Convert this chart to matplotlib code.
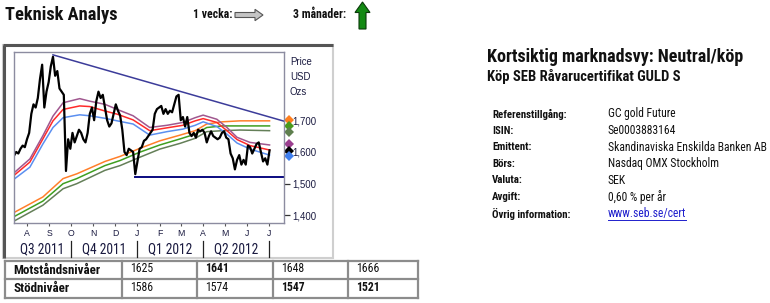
import matplotlib
matplotlib.use('Agg')
import matplotlib.pyplot as plt
import matplotlib.dates as mdates
import matplotlib.transforms as mtrans
from matplotlib.patches import Rectangle, Polygon
from matplotlib import font_manager
from matplotlib.font_manager import FontProperties
import pandas as pd

# ---------------- data ----------------
price_start = '2011-07-14'
price_step = '3D'
price = [1588, 1600, 1595, 1610, 1620, 1615, 1640, 1660, 1720, 1750,
         1740, 1770, 1830, 1875, 1740, 1790, 1820, 1870, 1900, 1840,
         1855, 1800, 1790, 1780, 1540, 1640, 1610, 1660, 1630, 1650,
         1670, 1660, 1640, 1630, 1660, 1720, 1740, 1700, 1760, 1790,
         1770, 1780, 1740, 1700, 1680, 1690, 1720, 1750, 1730, 1715,
         1670, 1600, 1590, 1610, 1605, 1600, 1530, 1570, 1610, 1615,
         1635, 1640, 1650, 1660, 1670, 1720, 1735, 1740, 1745, 1720,
         1735, 1720, 1730, 1725, 1750, 1775, 1780, 1700, 1710, 1680,
         1710, 1660, 1650, 1660, 1645, 1670, 1665, 1670, 1660, 1630,
         1650, 1665, 1650, 1645, 1640, 1645, 1660, 1665, 1645, 1640,
         1595, 1580, 1545, 1575, 1590, 1560, 1575, 1560, 1620, 1615,
         1595, 1610, 1625, 1630, 1600, 1570, 1580, 1560, 1605]

short_dates = ['2011-07-14', '2011-08-05', '2011-08-23', '2011-09-06', '2011-09-20',
               '2011-10-13', '2011-10-27', '2011-11-17', '2011-12-04', '2011-12-26',
               '2012-01-18', '2012-02-11', '2012-03-04', '2012-03-21', '2012-04-01',
               '2012-04-20', '2012-05-04', '2012-05-18', '2012-06-05', '2012-07-02']
short_upper = [1534, 1578, 1651, 1713, 1755, 1768, 1760, 1750, 1734, 1714,
               1677, 1684, 1693, 1708, 1716, 1703, 1677, 1646, 1630, 1622]
short_mid = [1526, 1568, 1641, 1698, 1734, 1745, 1743, 1729, 1719, 1701,
             1667, 1676, 1684, 1698, 1705, 1693, 1667, 1639, 1620, 1606]
short_lower = [1514, 1552, 1625, 1677, 1708, 1717, 1714, 1706, 1698, 1688,
               1653, 1664, 1672, 1684, 1695, 1680, 1656, 1628, 1609, 1590]

long_dates = ['2011-07-14', '2011-08-23', '2011-09-20', '2011-10-09', '2011-11-17',
              '2011-12-08', '2012-01-04', '2012-02-01', '2012-02-29', '2012-03-21',
              '2012-04-06', '2012-04-28', '2012-05-22', '2012-07-02']
long_upper = [1409, 1458, 1516, 1531, 1570, 1586, 1611, 1635, 1653, 1667,
              1688, 1695, 1698, 1698]
long_mid = [1396, 1445, 1500, 1516, 1557, 1573, 1599, 1622, 1641, 1656,
            1677, 1682, 1682, 1682]
long_lower = [1382, 1432, 1484, 1500, 1542, 1557, 1583, 1609, 1627, 1643,
              1664, 1667, 1669, 1667]

trend_dates = ['2011-09-06', '2012-07-22']
trend_values = [1906, 1697]
support_dates = ['2011-12-29', '2012-07-22']
support_values = [1520, 1520]

marker_values = [1700, 1681, 1664, 1625, 1603, 1588]
marker_colors = ['#ff7f1e', '#4a9a1e', '#5f7f4f', '#9b3f8f', '#000000', '#3f7fef']

y_ticks = [1400, 1500, 1600, 1700]
x_range = ['2011-07-14', '2012-07-22']
y_range = [1376, 1915]
quarters = [('Q3 2011', '2011-07-01', '2011-10-01'), ('Q4 2011', '2011-10-01', '2012-01-01'),
            ('Q1 2012', '2012-01-01', '2012-04-01'), ('Q2 2012', '2012-04-01', '2012-07-01')]

levels_header = ['Motståndsnivåer', 'Stödnivåer']
resistance = ['1625', '1641', '1648', '1666']
resistance_bold = [False, True, False, False]
support = ['1586', '1574', '1547', '1521']
support_bold = [False, False, True, True]

info_labels = ['Referenstillgång:', 'ISIN:', 'Emittent:', 'Börs:', 'Valuta:', 'Avgift:', 'Övrig information:']
info_values = ['GC gold Future', 'Se0003883164', 'Skandinaviska Enskilda Banken AB',
               'Nasdaq OMX Stockholm', 'SEK', '0,60 % per år', 'www.seb.se/cert']

# ---------------- fonts ----------------
def pick_narrow():
    for fam, st in [('Liberation Sans Narrow', 'normal'), ('Roboto Condensed', 'normal'),
                    ('Open Sans Condensed', 'normal'), ('DejaVu Sans', 'condensed')]:
        try:
            p = font_manager.findfont(FontProperties(family=fam, stretch=st), fallback_to_default=False)
            if st == 'condensed' and 'ondensed' not in p:
                continue
            return fam, st
        except Exception:
            pass
    return 'Roboto', 'normal'

NFAM, NSTRETCH = pick_narrow()
NAR = [NFAM, 'DejaVu Sans']
SANS = ['Liberation Sans', 'DejaVu Sans']
plt.rcParams['font.family'] = NAR

W, H = 770, 303
fig = plt.figure(figsize=(W / 100, H / 100), dpi=100)
fig.patch.set_facecolor('white')
renderer = fig.canvas.get_renderer()


def fit(s, target_px, max_size, weight='normal', family=None, stretch=None):
    family = family or NAR
    stretch = stretch or NSTRETCH
    t = fig.text(0, 0, s, fontsize=10, family=family, fontweight=weight, fontstretch=stretch)
    w = t.get_window_extent(renderer).width
    t.remove()
    return min(max_size, 10 * target_px / w)


# overlay in pixel coordinates
ov = fig.add_axes([0, 0, 1, 1])
ov.set_xlim(0, W)
ov.set_ylim(H, 0)
ov.axis('off')


def txt(x, y, s, size, weight='normal', color='#111', family=None, ha='left'):
    return ov.text(x, y, s, fontsize=size, fontweight=weight, family=family or NAR,
                   fontstretch=NSTRETCH if (family is None) else 'normal',
                   va='center', ha=ha, color=color)


# header
txt(5, 15, 'Teknisk Analys', fit('Teknisk Analys', 113, 14.5, 'bold'), 'bold')
hs = fit('3 månader:', 53, 9, 'bold')
txt(193, 15, '1 vecka:', hs, 'bold')
ov.add_patch(Polygon([(235, 12.5), (255, 12.5), (255, 9.3), (263, 15), (255, 20.7), (255, 17.5), (235, 17.5)],
                     closed=True, facecolor='#c4c4c4', edgecolor='#555555', lw=0.8))
txt(293, 15, '3 månader:', hs, 'bold')
ov.add_patch(Polygon([(359, 29), (359, 12.5), (355, 12.5), (362.5, 2), (370, 12.5), (366, 12.5), (366, 29)],
                     closed=True, facecolor='#138a13', edgecolor='#0a3a0a', lw=0.8))

# chart panel
ov.add_patch(Rectangle((3, 45), 330, 213, facecolor='white', edgecolor='#cfcfcf', lw=1.5))
ov.plot([4, 4], [258, 45], color='#555555', lw=2.2, solid_capstyle='butt')
ov.plot([3, 333], [45, 45], color='#555555', lw=2.2, solid_capstyle='butt')

# right text block
title = 'Kortsiktig marknadsvy: Neutral/köp'
txt(487, 57, title, fit(title, 271, 13, 'bold'), 'bold')
sub = 'Köp SEB Råvarucertifikat GULD S'
txt(487, 77, sub, fit(sub, 212, 10.5, 'bold'), 'bold')
lab_size = fit('Övrig information:', 80, 8, 'bold')
val_size = fit('Skandinaviska Enskilda Banken AB', 158, 9)
row_y0, row_dy = 114, 16.6
for i, (lab, val) in enumerate(zip(info_labels, info_values)):
    y = row_y0 + i * row_dy
    txt(492, y, lab, lab_size, 'bold')
    if val.startswith('www'):
        t = txt(608, y, val, val_size, color='#1f1fcc')
        bb = t.get_window_extent(renderer)
        ov.plot([608, 608 + bb.width], [y + 6, y + 6], color='#1f1fcc', lw=0.7)
    else:
        txt(608, y, val, val_size)

# levels table
tcol = [5, 122, 197, 273, 348, 418]
trow = [261, 279, 298]
for x in tcol:
    ov.plot([x, x], [trow[0], trow[-1]], color='#8c8c8c', lw=1.6, solid_capstyle='projecting')
for y in trow:
    ov.plot([tcol[0], tcol[-1]], [y, y], color='#8c8c8c', lw=1.6, solid_capstyle='projecting')
hdr_size = fit('Motståndsnivåer', 87, 9.5, 'bold')
num_size = fit('1625', 23, 9.5)
for r, (hdr, vals, bolds) in enumerate(zip(levels_header, [resistance, support], [resistance_bold, support_bold])):
    yc = (trow[r] + trow[r + 1]) / 2
    txt(13, yc, hdr, hdr_size, 'bold')
    for c, (v, b) in enumerate(zip(vals, bolds)):
        txt(tcol[c + 1] + 8, yc - 1, v, num_size, 'bold' if b else 'normal')

# ---------------- chart ----------------
ax = fig.add_axes([14 / W, 1 - 223 / H, 270 / W, 171 / H])
ax.set_facecolor('white')
pd_dates = pd.date_range(price_start, periods=len(price), freq=price_step)
sd = pd.to_datetime(short_dates)
ld = pd.to_datetime(long_dates)

ax.plot(ld, long_lower, color='#647f58', lw=1.1)
ax.plot(ld, long_mid, color='#3f9f20', lw=1.1)
ax.plot(ld, long_upper, color='#ff7f2a', lw=1.1)
ax.plot(sd, short_lower, color='#5b8ff0', lw=1.1)
ax.plot(sd, short_mid, color='#ff2a2a', lw=1.1)
ax.plot(sd, short_upper, color='#a0578f', lw=1.1)
ax.plot(pd_dates, price, color='black', lw=1.6)
ax.plot(pd.to_datetime(trend_dates), trend_values, color='#3c3c9a', lw=1.1)
ax.plot(pd.to_datetime(support_dates), support_values, color='#0a0a80', lw=1.4)

ax.set_xlim(pd.to_datetime(x_range[0]), pd.to_datetime(x_range[1]))
ax.set_ylim(*y_range)

for sp in ax.spines.values():
    sp.set_color('#8c8ca0')
    sp.set_linewidth(1.0)

ax.yaxis.tick_right()
ax.set_yticks(y_ticks)
ax.set_yticklabels([f'{v:,}' for v in y_ticks])
tick_size = fit('1,700', 24, 8, family=SANS, stretch='normal')
ax.tick_params(axis='y', direction='out', length=4, width=0.9, color='#333', pad=2,
               labelsize=tick_size, labelcolor='#1a1a40')
for lbl in ax.get_yticklabels():
    lbl.set_family(SANS)

ax.xaxis.set_major_locator(mdates.MonthLocator())
ax.xaxis.set_major_formatter(mdates.DateFormatter('%b'))
ax.tick_params(axis='x', direction='out', length=2, width=0.8, color='#555', pad=2,
               labelsize=6.3, labelcolor='#1a1a40')
fig.canvas.draw()
ax.set_xticklabels([t.get_text()[0] for t in ax.get_xticklabels()])
for lbl in ax.get_xticklabels():
    lbl.set_family(SANS)

# markers at right
bt = mtrans.blended_transform_factory(ax.transAxes, ax.transData)
for v, c in zip(marker_values, marker_colors):
    ax.plot([1.019], [v], marker='D', markersize=5.5, color=c, transform=bt, clip_on=False,
            markeredgewidth=0)

# Price / USD / Ozs
for i, s in enumerate(['Price', 'USD', 'Ozs']):
    ov.text(290, 62 + i * 15, s, fontsize=tick_size, family=SANS, va='center', ha='left', color='#1a1a40')

# quarters
q_size = fit('Q3 2011', 44, 10)
x0 = pd.to_datetime(x_range[0])
bx = mtrans.blended_transform_factory(ax.transData, ov.transData)
for name, qs, qe in quarters:
    qs_d = max(pd.to_datetime(qs), x0)
    qe_d = pd.to_datetime(qe)
    mid = qs_d + (qe_d - qs_d) / 2
    ax.text(mdates.date2num(mid), 249, name, transform=bx, fontsize=q_size, family=NAR,
            fontstretch=NSTRETCH, ha='center', va='center', color='#1a1a40', clip_on=False)
    ax.plot([mdates.date2num(qe_d)] * 2, [241, 257], transform=bx, color='#222', lw=0.9, clip_on=False)

fig.savefig('out.png', dpi=100, facecolor='white')
